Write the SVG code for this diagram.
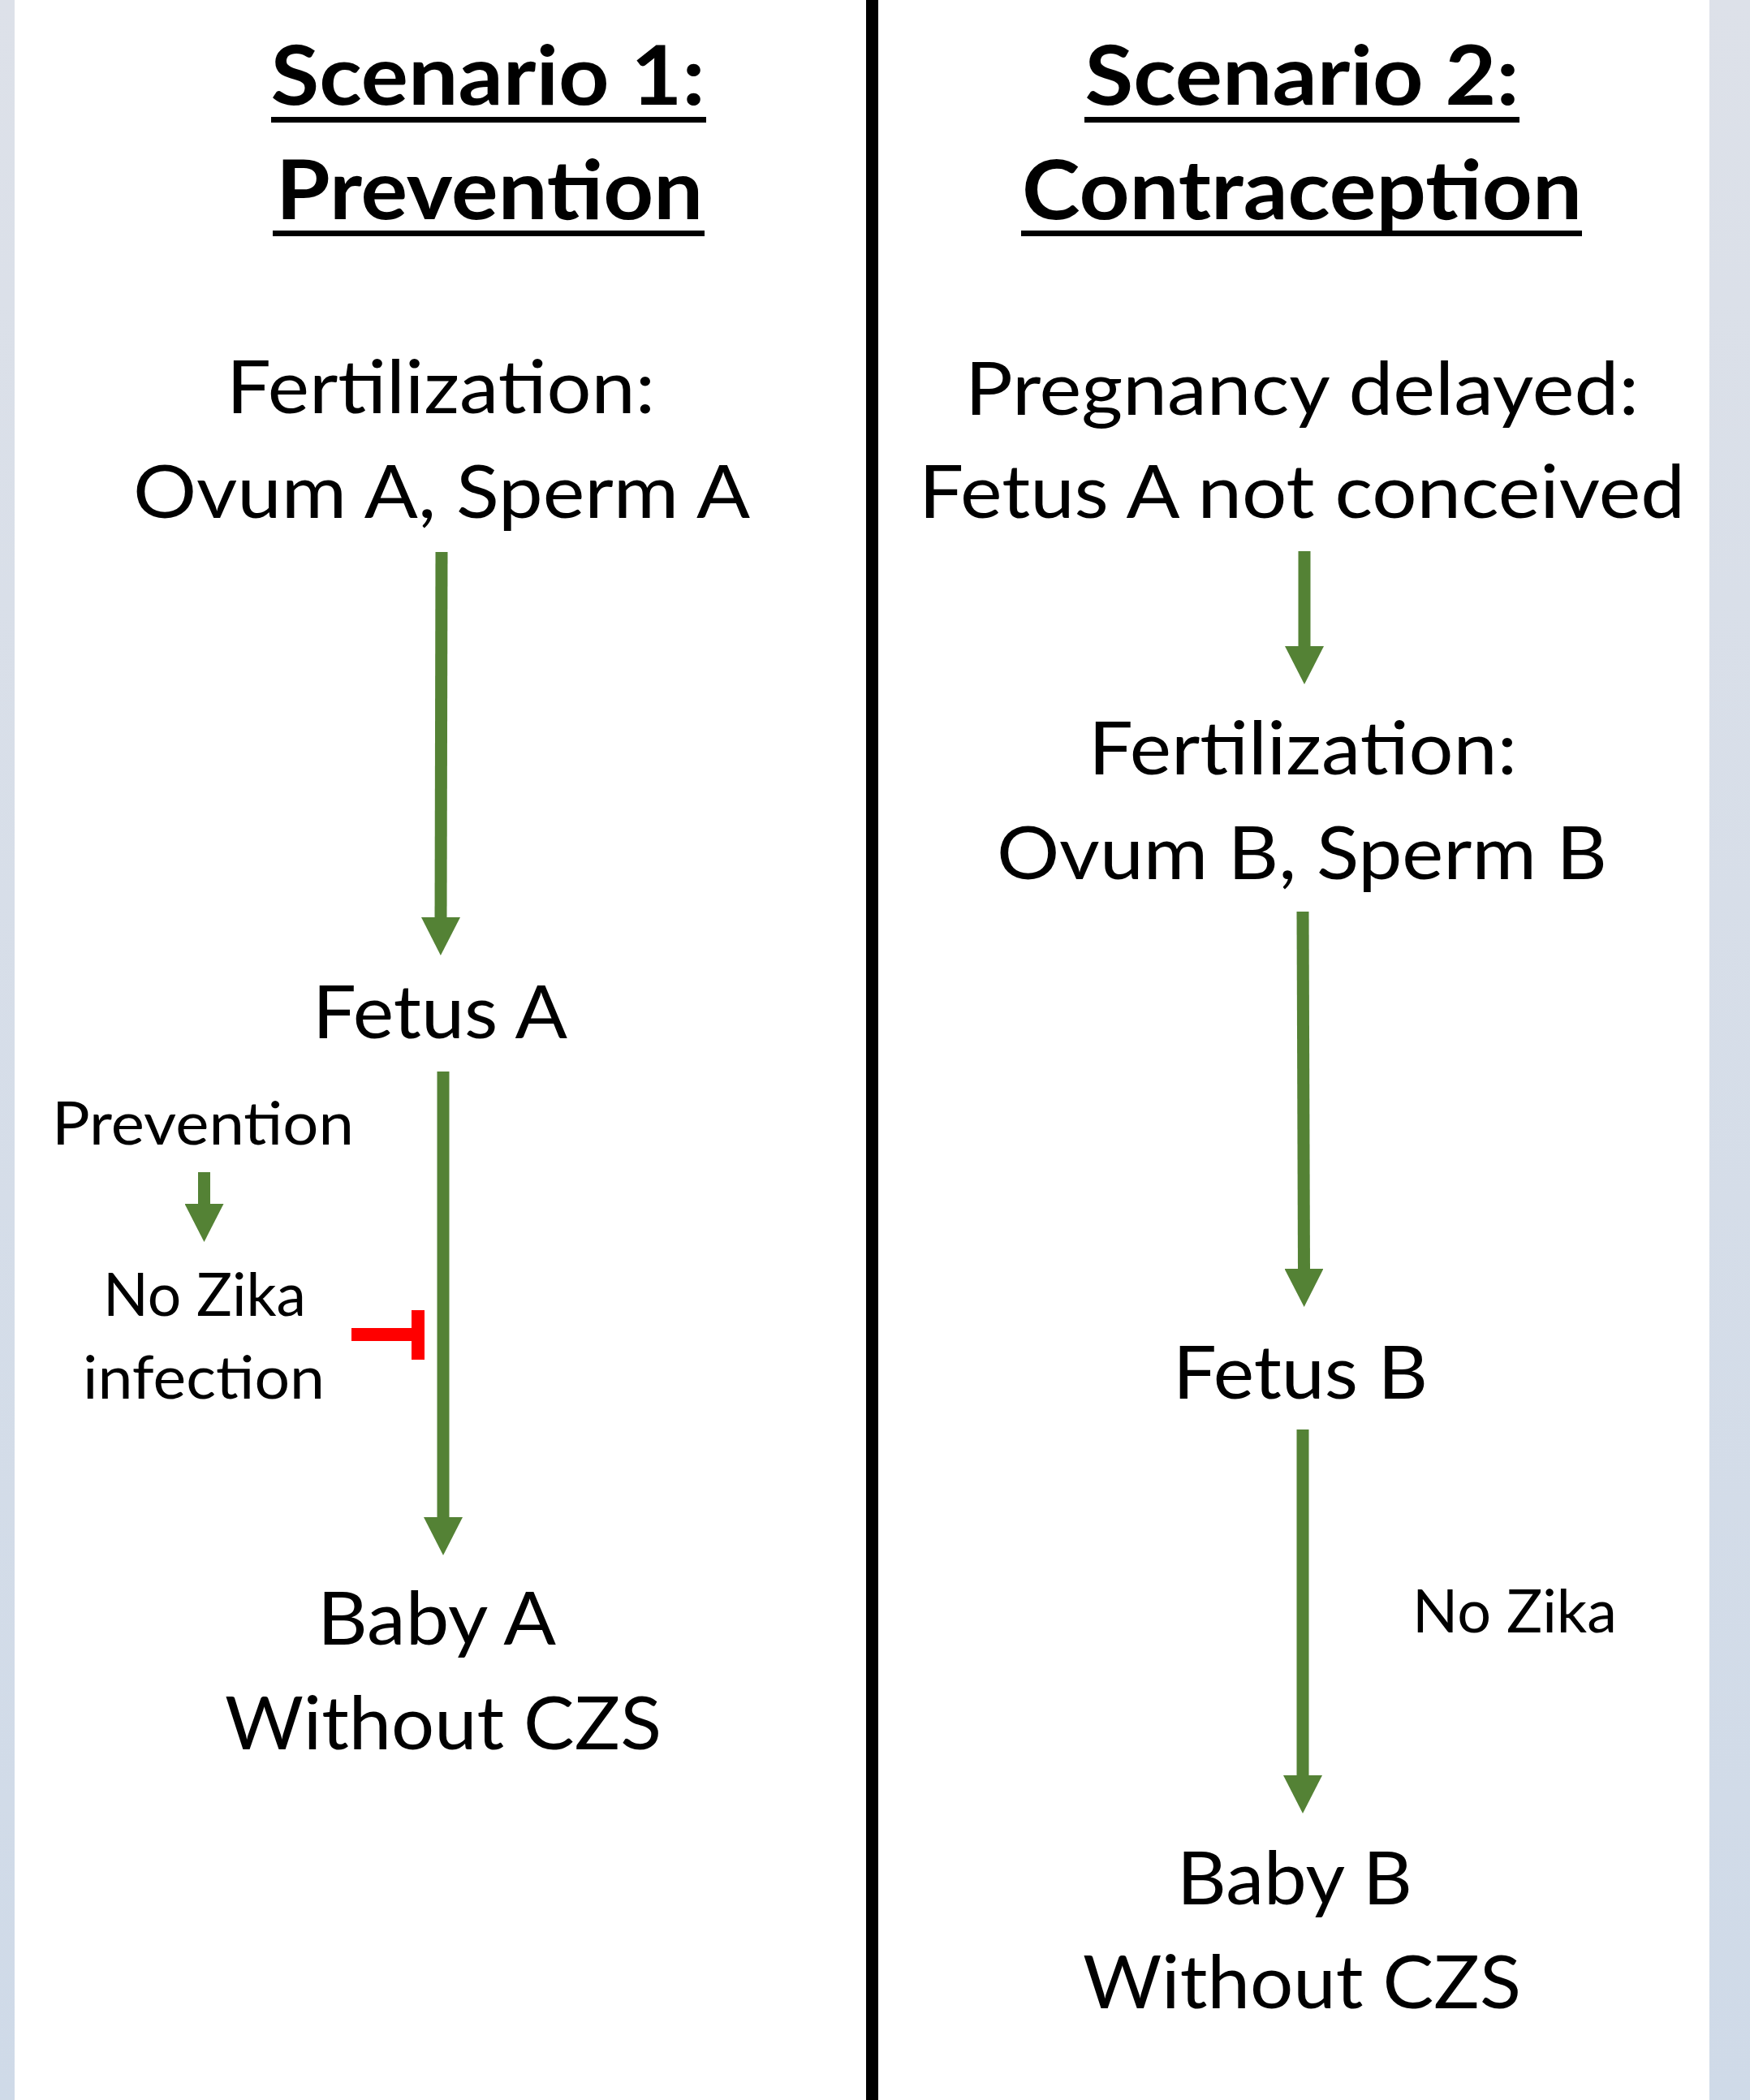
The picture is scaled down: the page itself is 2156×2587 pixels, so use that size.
<svg xmlns="http://www.w3.org/2000/svg" width="2156" height="2587" viewBox="0 0 2156 2587">
  <style>
    .t { font-family: Lato, "Open Sans", "Liberation Sans", sans-serif; fill: #000; text-anchor: middle; }
    .title { font-size: 102px; font-weight: bold; }
    .big { font-size: 92px; }
    .small { font-size: 73px; }
    .arrow { stroke: #548235; stroke-width: 15; fill: none; marker-end: url(#head); }
    .ul { fill: #000; }
  </style>
  <defs>
    <marker id="head" viewBox="0 0 47 48" refX="0" refY="24" markerUnits="userSpaceOnUse" markerWidth="47" markerHeight="48" orient="auto">
      <path d="M0,0 L47,24 L0,48 Z" fill="#548235"/>
    </marker>
    <linearGradient id="side" x1="0" y1="0" x2="0" y2="1">
      <stop offset="0" stop-color="#dde1e9"/>
      <stop offset="1" stop-color="#cfdae8"/>
    </linearGradient>
  </defs>

  <g id="background">
    <rect x="0" y="0" width="2156" height="2587" fill="url(#side)"/>
    <rect x="18" y="0" width="2088" height="2587" fill="#ffffff"/>
    <rect x="1067" y="0" width="15" height="2587" fill="#000000"/>
  </g>

  <g id="connectors">
    <line class="arrow" x1="544" y1="680" x2="543" y2="1130"/>
    <line class="arrow" x1="546" y1="1320" x2="546" y2="1869"/>
    <line class="arrow" x1="251.5" y1="1444" x2="251.5" y2="1483"/>
    <line class="arrow" x1="1607" y1="679" x2="1607" y2="796"/>
    <line class="arrow" x1="1605" y1="1123" x2="1606.5" y2="1563"/>
    <line class="arrow" x1="1605" y1="1761" x2="1605" y2="2187"/>
    <g id="inhibit" stroke="#ff0000" stroke-width="16" fill="none">
      <line x1="433" y1="1644" x2="515" y2="1644"/>
      <line x1="515" y1="1614" x2="515" y2="1675"/>
    </g>
  </g>

  <g id="title-1">
    <text class="t title" x="601" y="129" textLength="535" lengthAdjust="spacingAndGlyphs">Scenario 1:</text>
    <rect class="ul" x="334" y="144" width="536" height="7"/>
    <text class="t title" x="603" y="270" textLength="526" lengthAdjust="spacingAndGlyphs">Prevention</text>
    <rect class="ul" x="336" y="284" width="532" height="7"/>
  </g>
  <g id="title-2">
    <text class="t title" x="1604" y="129" textLength="535" lengthAdjust="spacingAndGlyphs">Scenario 2:</text>
    <rect class="ul" x="1336" y="144" width="536" height="7"/>
    <text class="t title" x="1604" y="270" textLength="690" lengthAdjust="spacingAndGlyphs">Contraception</text>
    <rect class="ul" x="1258" y="284" width="691" height="7"/>
  </g>

  <g id="fertilization-a">
    <text class="t big" x="543" y="509" textLength="528" lengthAdjust="spacingAndGlyphs">Fertilization:</text>
    <text class="t big" x="544" y="638" textLength="760" lengthAdjust="spacingAndGlyphs">Ovum A, Sperm A</text>
  </g>
  <g id="fetus-a">
    <text class="t big" x="542" y="1279" textLength="314" lengthAdjust="spacingAndGlyphs">Fetus A</text>
  </g>
  <g id="prevention">
    <text class="t small" x="250" y="1410" textLength="372" lengthAdjust="spacingAndGlyphs">Prevention</text>
  </g>
  <g id="no-zika-infection">
    <text class="t small" x="252" y="1621" textLength="250" lengthAdjust="spacingAndGlyphs">No Zika</text>
    <text class="t small" x="251" y="1723" textLength="298" lengthAdjust="spacingAndGlyphs">infection</text>
  </g>
  <g id="baby-a">
    <text class="t big" x="538" y="2026" textLength="294" lengthAdjust="spacingAndGlyphs">Baby A</text>
    <text class="t big" x="546" y="2155" textLength="538" lengthAdjust="spacingAndGlyphs">Without CZS</text>
  </g>

  <g id="pregnancy-delayed">
    <text class="t big" x="1604" y="511" textLength="830" lengthAdjust="spacingAndGlyphs">Pregnancy delayed:</text>
    <text class="t big" x="1604" y="638" textLength="944" lengthAdjust="spacingAndGlyphs">Fetus A not conceived</text>
  </g>
  <g id="fertilization-b">
    <text class="t big" x="1605" y="954" textLength="528" lengthAdjust="spacingAndGlyphs">Fertilization:</text>
    <text class="t big" x="1604" y="1083" textLength="752" lengthAdjust="spacingAndGlyphs">Ovum B, Sperm B</text>
  </g>
  <g id="fetus-b">
    <text class="t big" x="1602" y="1723" textLength="314" lengthAdjust="spacingAndGlyphs">Fetus B</text>
  </g>
  <g id="no-zika-b">
    <text class="t small" x="1866" y="2011" textLength="252" lengthAdjust="spacingAndGlyphs">No Zika</text>
  </g>
  <g id="baby-b">
    <text class="t big" x="1595" y="2346" textLength="290" lengthAdjust="spacingAndGlyphs">Baby B</text>
    <text class="t big" x="1604" y="2474" textLength="540" lengthAdjust="spacingAndGlyphs">Without CZS</text>
  </g>
</svg>
